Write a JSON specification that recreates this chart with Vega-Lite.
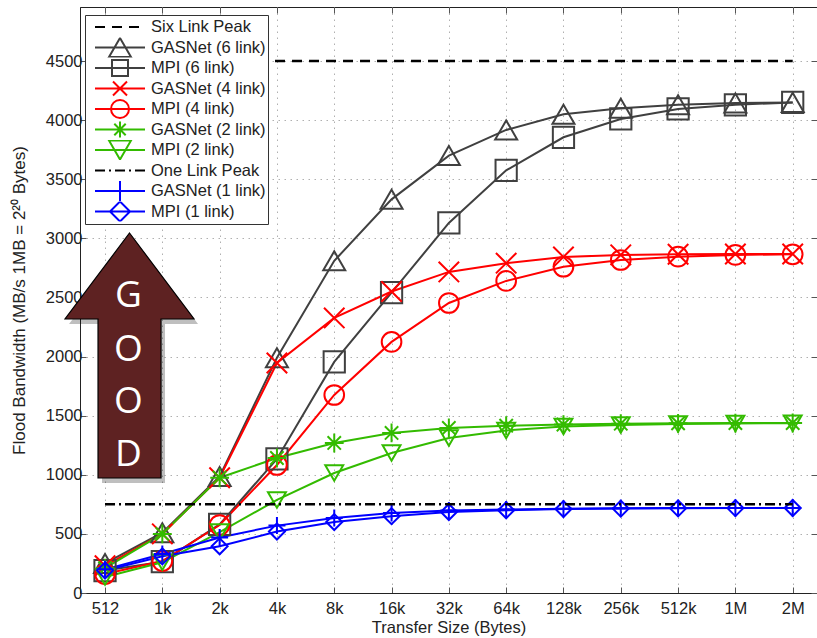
{
  "$schema": "https://vega.github.io/schema/vega-lite/v6.json",
  "width": 737,
  "height": 586,
  "autosize": {"type": "none"},
  "padding": {"left": 80, "top": 7, "right": 0, "bottom": 45},
  "background": "white",
  "config": {
    "font": "Liberation Sans",
    "view": {"stroke": "#222", "strokeWidth": 1},
    "axis": {
      "labelFont": "Liberation Sans",
      "labelFontSize": 16.5,
      "labelColor": "#222",
      "titleFont": "Liberation Sans",
      "titleFontSize": 16.5,
      "titleFontWeight": "normal",
      "titleColor": "#222",
      "domainColor": "#222",
      "tickColor": "#555",
      "tickSize": -6,
      "gridColor": "#b0b0b0",
      "gridDash": [1.5, 4.5],
      "gridWidth": 1
    }
  },
  "datasets": {
    "series": [
      {"series": "GASNet (6 link)", "size": 512, "value": 250},
      {"series": "GASNet (6 link)", "size": 1024, "value": 510},
      {"series": "GASNet (6 link)", "size": 2048, "value": 985},
      {"series": "GASNet (6 link)", "size": 4096, "value": 1990},
      {"series": "GASNet (6 link)", "size": 8192, "value": 2810},
      {"series": "GASNet (6 link)", "size": 16384, "value": 3330},
      {"series": "GASNet (6 link)", "size": 32768, "value": 3700},
      {"series": "GASNet (6 link)", "size": 65536, "value": 3917},
      {"series": "GASNet (6 link)", "size": 131072, "value": 4050},
      {"series": "GASNet (6 link)", "size": 262144, "value": 4100},
      {"series": "GASNet (6 link)", "size": 524288, "value": 4130},
      {"series": "GASNet (6 link)", "size": 1048576, "value": 4145},
      {"series": "GASNet (6 link)", "size": 2097152, "value": 4150},
      {"series": "MPI (6 link)", "size": 512, "value": 190},
      {"series": "MPI (6 link)", "size": 1024, "value": 265},
      {"series": "MPI (6 link)", "size": 2048, "value": 580},
      {"series": "MPI (6 link)", "size": 4096, "value": 1134},
      {"series": "MPI (6 link)", "size": 8192, "value": 1955},
      {"series": "MPI (6 link)", "size": 16384, "value": 2540},
      {"series": "MPI (6 link)", "size": 32768, "value": 3130},
      {"series": "MPI (6 link)", "size": 65536, "value": 3575},
      {"series": "MPI (6 link)", "size": 131072, "value": 3855},
      {"series": "MPI (6 link)", "size": 262144, "value": 4010},
      {"series": "MPI (6 link)", "size": 524288, "value": 4095},
      {"series": "MPI (6 link)", "size": 1048576, "value": 4130},
      {"series": "MPI (6 link)", "size": 2097152, "value": 4150},
      {"series": "GASNet (4 link)", "size": 512, "value": 230},
      {"series": "GASNet (4 link)", "size": 1024, "value": 500},
      {"series": "GASNet (4 link)", "size": 2048, "value": 975},
      {"series": "GASNet (4 link)", "size": 4096, "value": 1946},
      {"series": "GASNet (4 link)", "size": 8192, "value": 2327},
      {"series": "GASNet (4 link)", "size": 16384, "value": 2550},
      {"series": "GASNet (4 link)", "size": 32768, "value": 2716},
      {"series": "GASNet (4 link)", "size": 65536, "value": 2790},
      {"series": "GASNet (4 link)", "size": 131072, "value": 2843},
      {"series": "GASNet (4 link)", "size": 262144, "value": 2860},
      {"series": "GASNet (4 link)", "size": 524288, "value": 2865},
      {"series": "GASNet (4 link)", "size": 1048576, "value": 2868},
      {"series": "GASNet (4 link)", "size": 2097152, "value": 2868},
      {"series": "MPI (4 link)", "size": 512, "value": 160},
      {"series": "MPI (4 link)", "size": 1024, "value": 270},
      {"series": "MPI (4 link)", "size": 2048, "value": 575},
      {"series": "MPI (4 link)", "size": 4096, "value": 1083},
      {"series": "MPI (4 link)", "size": 8192, "value": 1675},
      {"series": "MPI (4 link)", "size": 16384, "value": 2124},
      {"series": "MPI (4 link)", "size": 32768, "value": 2453},
      {"series": "MPI (4 link)", "size": 65536, "value": 2640},
      {"series": "MPI (4 link)", "size": 131072, "value": 2760},
      {"series": "MPI (4 link)", "size": 262144, "value": 2817},
      {"series": "MPI (4 link)", "size": 524288, "value": 2845},
      {"series": "MPI (4 link)", "size": 1048576, "value": 2860},
      {"series": "MPI (4 link)", "size": 2097152, "value": 2865},
      {"series": "GASNet (2 link)", "size": 512, "value": 210},
      {"series": "GASNet (2 link)", "size": 1024, "value": 500},
      {"series": "GASNet (2 link)", "size": 2048, "value": 975},
      {"series": "GASNet (2 link)", "size": 4096, "value": 1142},
      {"series": "GASNet (2 link)", "size": 8192, "value": 1269},
      {"series": "GASNet (2 link)", "size": 16384, "value": 1354},
      {"series": "GASNet (2 link)", "size": 32768, "value": 1396},
      {"series": "GASNet (2 link)", "size": 65536, "value": 1415},
      {"series": "GASNet (2 link)", "size": 131072, "value": 1425},
      {"series": "GASNet (2 link)", "size": 262144, "value": 1432},
      {"series": "GASNet (2 link)", "size": 524288, "value": 1435},
      {"series": "GASNet (2 link)", "size": 1048576, "value": 1437},
      {"series": "GASNet (2 link)", "size": 2097152, "value": 1438},
      {"series": "MPI (2 link)", "size": 512, "value": 135},
      {"series": "MPI (2 link)", "size": 1024, "value": 260},
      {"series": "MPI (2 link)", "size": 2048, "value": 515},
      {"series": "MPI (2 link)", "size": 4096, "value": 787},
      {"series": "MPI (2 link)", "size": 8192, "value": 1015},
      {"series": "MPI (2 link)", "size": 16384, "value": 1184},
      {"series": "MPI (2 link)", "size": 32768, "value": 1311},
      {"series": "MPI (2 link)", "size": 65536, "value": 1375},
      {"series": "MPI (2 link)", "size": 131072, "value": 1408},
      {"series": "MPI (2 link)", "size": 262144, "value": 1422},
      {"series": "MPI (2 link)", "size": 524288, "value": 1430},
      {"series": "MPI (2 link)", "size": 1048576, "value": 1434},
      {"series": "MPI (2 link)", "size": 2097152, "value": 1436},
      {"series": "GASNet (1 link)", "size": 512, "value": 200},
      {"series": "GASNet (1 link)", "size": 1024, "value": 330},
      {"series": "GASNet (1 link)", "size": 2048, "value": 470},
      {"series": "GASNet (1 link)", "size": 4096, "value": 570},
      {"series": "GASNet (1 link)", "size": 8192, "value": 634},
      {"series": "GASNet (1 link)", "size": 16384, "value": 677},
      {"series": "GASNet (1 link)", "size": 32768, "value": 697},
      {"series": "GASNet (1 link)", "size": 65536, "value": 707},
      {"series": "GASNet (1 link)", "size": 131072, "value": 713},
      {"series": "GASNet (1 link)", "size": 262144, "value": 716},
      {"series": "GASNet (1 link)", "size": 524288, "value": 718},
      {"series": "GASNet (1 link)", "size": 1048576, "value": 719},
      {"series": "GASNet (1 link)", "size": 2097152, "value": 720},
      {"series": "MPI (1 link)", "size": 512, "value": 190},
      {"series": "MPI (1 link)", "size": 1024, "value": 310},
      {"series": "MPI (1 link)", "size": 2048, "value": 395},
      {"series": "MPI (1 link)", "size": 4096, "value": 520},
      {"series": "MPI (1 link)", "size": 8192, "value": 600},
      {"series": "MPI (1 link)", "size": 16384, "value": 650},
      {"series": "MPI (1 link)", "size": 32768, "value": 685},
      {"series": "MPI (1 link)", "size": 65536, "value": 700},
      {"series": "MPI (1 link)", "size": 131072, "value": 710},
      {"series": "MPI (1 link)", "size": 262144, "value": 714},
      {"series": "MPI (1 link)", "size": 524288, "value": 716},
      {"series": "MPI (1 link)", "size": 1048576, "value": 718},
      {"series": "MPI (1 link)", "size": 2097152, "value": 719}
    ],
    "peaks": [
      {"series": "Six Link Peak", "size": 512, "value": 4500},
      {"series": "Six Link Peak", "size": 2097152, "value": 4500},
      {"series": "One Link Peak", "size": 512, "value": 750},
      {"series": "One Link Peak", "size": 2097152, "value": 750}
    ],
    "arrow": [
      {"label": "GOOD", "size": 688.6, "value": 2009}
    ],
    "letters": [
      {"letter": "G", "size": 680, "value": 2513},
      {"letter": "O", "size": 680, "value": 2056},
      {"letter": "O", "size": 680, "value": 1616},
      {"letter": "D", "size": 680, "value": 1168}
    ]
  },
  "layer": [
    {
      "data": {"name": "series"},
      "mark": {"type": "line", "strokeWidth": 2},
      "encoding": {
        "x": {
          "field": "size", "type": "quantitative",
          "scale": {"type": "log", "base": 2, "domain": [378.3, 2813800], "nice": false},
          "axis": {
            "orient": "bottom",
            "values": [512, 1024, 2048, 4096, 8192, 16384, 32768, 65536, 131072, 262144, 524288, 1048576, 2097152],
            "labelExpr": "datum.value >= 1048576 ? (datum.value/1048576) + 'M' : datum.value >= 1024 ? (datum.value/1024) + 'k' : datum.value + ''",
            "labelPadding": 13,
            "title": "Transfer Size (Bytes)",
            "titlePadding": 3,
            "grid": true
          }
        },
        "y": {
          "field": "value", "type": "quantitative",
          "scale": {"domain": [0, 4957], "nice": false, "zero": true},
          "axis": {
            "orient": "left",
            "values": [0, 500, 1000, 1500, 2000, 2500, 3000, 3500, 4000, 4500],
            "format": "d",
            "labelPadding": 4,
            "title": "Flood Bandwidth (MB/s 1MB = 2²⁰ Bytes)",
            "titleFontSize": 17,
            "titlePadding": 17,
            "grid": true
          }
        },
        "color": {
          "field": "series", "type": "nominal",
          "scale": {
            "domain": ["Six Link Peak", "GASNet (6 link)", "MPI (6 link)", "GASNet (4 link)", "MPI (4 link)", "GASNet (2 link)", "MPI (2 link)", "One Link Peak", "GASNet (1 link)", "MPI (1 link)"],
            "range": ["#000000", "#404040", "#404040", "#ff0000", "#ff0000", "#33bb00", "#33bb00", "#000000", "#0000ff", "#0000ff"]
          },
          "legend": {
            "title": null,
            "orient": "none",
            "legendX": 5,
            "legendY": 8,
            "fillColor": "white",
            "strokeColor": "#333",
            "padding": 2,
            "labelFont": "Liberation Sans",
            "labelFontSize": 16.5,
            "labelColor": "#222",
            "symbolSize": 4,
            "symbolStrokeWidth": 2,
            "symbolOffset": 24.75,
            "labelOffset": 22.75,
            "clipHeight": 20,
            "rowPadding": 0.5,
            "encode": {
              "symbols": {
                "update": {
                  "shape": {"signal": "{'Six Link Peak': 'M-25,0H25', 'GASNet (6 link)': 'M-25,0H25M0,-9.5L11,9.5L-11,9.5Z', 'MPI (6 link)': 'M-25,0H25M-8,-8H8V8H-8Z', 'GASNet (4 link)': 'M-25,0H25M-7,-7L7,7M-7,7L7,-7', 'MPI (4 link)': 'M-25,0H25M9,0A9,9,0,1,1,-9,0A9,9,0,1,1,9,0Z', 'GASNet (2 link)': 'M-25,0H25M0,-8V8M-5.7,-5.7L5.7,5.7M-5.7,5.7L5.7,-5.7', 'MPI (2 link)': 'M-25,0H25M0,9.5L11,-9.5L-11,-9.5Z', 'One Link Peak': 'M-25,0H25', 'GASNet (1 link)': 'M-25,0H25M0,-10V10', 'MPI (1 link)': 'M-25,0H25M0,-10L10,0L0,10L-10,0Z'}[datum.value]"},
                  "strokeDash": {"signal": "datum.value === 'Six Link Peak' ? [10, 7] : datum.value === 'One Link Peak' ? [10, 4, 2, 4] : []"},
                  "stroke": {"scale": "color", "field": "value"},
                  "fill": {"value": "transparent"},
                  "strokeWidth": {"value": 2},
                  "size": {"value": 4},
                  "opacity": {"value": 1}
                }
              }
            }
          }
        }
      }
    },
    {
      "data": {"name": "series"},
      "mark": {"type": "point", "filled": false, "strokeWidth": 2, "opacity": 1},
      "encoding": {
        "x": {"field": "size", "type": "quantitative", "axis": null},
        "y": {"field": "value", "type": "quantitative", "axis": null},
        "color": {"field": "series", "type": "nominal"},
        "shape": {
          "field": "series", "type": "nominal",
          "scale": {
            "domain": ["GASNet (6 link)", "MPI (6 link)", "GASNet (4 link)", "MPI (4 link)", "GASNet (2 link)", "MPI (2 link)", "GASNet (1 link)", "MPI (1 link)"],
            "range": ["triangle-up", "square", "M-1,-1L1,1M-1,1L1,-1", "circle", "M0,-1V1M-1,0H1M-0.71,-0.71L0.71,0.71M-0.71,0.71L0.71,-0.71", "triangle-down", "M0,-1V1M-1,0H1", "diamond"]
          },
          "legend": null
        },
        "size": {
          "field": "series", "type": "nominal",
          "scale": {
            "domain": ["GASNet (6 link)", "MPI (6 link)", "GASNet (4 link)", "MPI (4 link)", "GASNet (2 link)", "MPI (2 link)", "GASNet (1 link)", "MPI (1 link)"],
            "range": [484, 256, 196, 324, 256, 484, 400, 484]
          },
          "legend": null
        }
      }
    },
    {
      "data": {"name": "peaks"},
      "mark": {"type": "line", "strokeWidth": 2.5},
      "encoding": {
        "x": {
          "field": "size", "type": "quantitative",
          "axis": {
            "orient": "top",
            "values": [512, 1024, 2048, 4096, 8192, 16384, 32768, 65536, 131072, 262144, 524288, 1048576, 2097152],
            "labels": false, "grid": false, "domain": false, "title": null
          }
        },
        "y": {
          "field": "value", "type": "quantitative",
          "axis": {
            "orient": "right",
            "values": [0, 500, 1000, 1500, 2000, 2500, 3000, 3500, 4000, 4500],
            "labels": false, "grid": false, "domain": false, "title": null
          }
        },
        "color": {"field": "series", "type": "nominal"},
        "strokeDash": {
          "field": "series", "type": "nominal",
          "scale": {"domain": ["Six Link Peak", "One Link Peak"], "range": [[10, 7], [10, 4, 2, 4]]},
          "legend": null
        }
      }
    },
    {
      "data": {"name": "arrow"},
      "mark": {"type": "point", "filled": true, "size": 4, "shape": "M4,-117.5L68.5,-31.5L35.5,-31.5L35.5,127.5L-27.5,127.5L-27.5,-31.5L-60.5,-31.5Z", "color": "#000000", "opacity": 0.25, "strokeWidth": 0},
      "encoding": {
        "x": {"field": "size", "type": "quantitative", "axis": null},
        "y": {"field": "value", "type": "quantitative", "axis": null}
      }
    },
    {
      "data": {"name": "arrow"},
      "mark": {"type": "point", "filled": true, "size": 4, "shape": "M0,-122.5L64.5,-36.5L31.5,-36.5L31.5,122.5L-31.5,122.5L-31.5,-36.5L-64.5,-36.5Z", "fill": "#5e2222", "fillOpacity": 1, "stroke": "#000000", "strokeWidth": 1.2, "opacity": 1},
      "encoding": {
        "x": {"field": "size", "type": "quantitative", "axis": null},
        "y": {"field": "value", "type": "quantitative", "axis": null}
      }
    },
    {
      "data": {"name": "letters"},
      "mark": {"type": "text", "font": "Open Sans", "fontSize": 37, "color": "white", "align": "center", "baseline": "middle"},
      "encoding": {
        "x": {"field": "size", "type": "quantitative", "axis": null},
        "y": {"field": "value", "type": "quantitative", "axis": null},
        "text": {"field": "letter"}
      }
    }
  ],
  "resolve": {"axis": {"x": "independent", "y": "independent"}}
}
